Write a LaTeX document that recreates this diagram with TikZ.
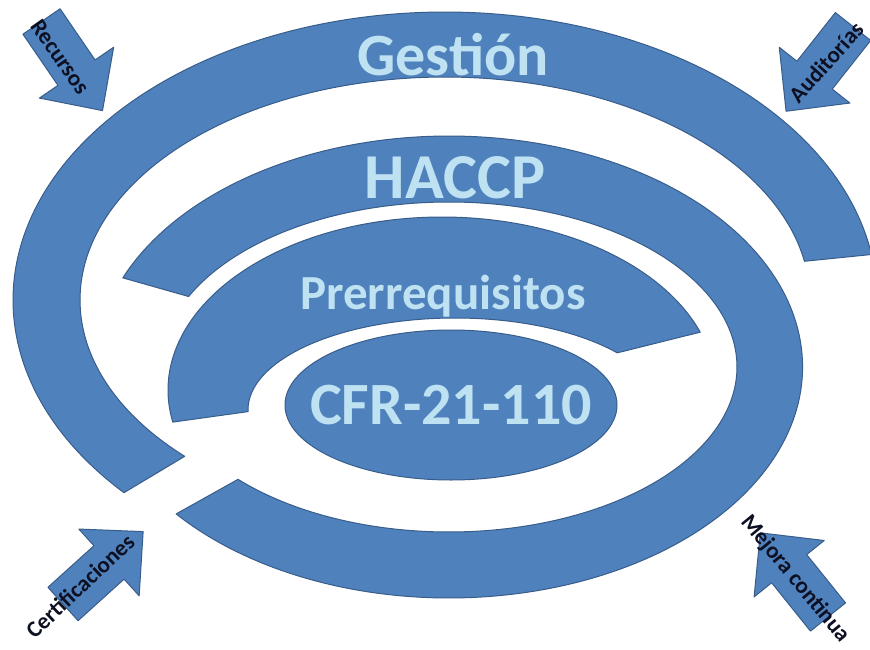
\documentclass[tikz,border=0pt]{standalone}
\usepackage{fontspec}
\setmainfont{Carlito}
\definecolor{bandfill}{RGB}{79,129,189}
\definecolor{bandline}{RGB}{56,93,138}
\definecolor{labellight}{RGB}{190,226,242}
\definecolor{labeldark}{RGB}{12,16,34}
\tikzset{
  band/.style={fill=bandfill, draw=bandline, line width=1pt, line join=round},
  bigtext/.style={text=labellight, font=\bfseries\fontsize{60}{60}\selectfont, inner sep=0pt, anchor=base},
  arrowtext/.style={text=labeldark, font=\bfseries\fontsize{23}{23}\selectfont, inner sep=0pt},
  blockarrow/.pic={\path[band] (0,-22.5) -- (62,-22.5) -- (62,-45) -- (108,0) -- (62,45) -- (62,22.5) -- (0,22.5) -- cycle;}
}
\begin{document}
\begin{tikzpicture}[x=1pt,y=-1pt]
\useasboundingbox (0,0) rectangle (870,650);
\begin{scope}
\clip (0,0) rectangle (870,650);
% Gestion band
\path[band] plot[domain=0:1,samples=160] ({445+432*cos(138+213*\x)},{300+288*sin(138+213*\x)})
  -- plot[domain=0:1,samples=160] ({445+365*cos(350-214.6*\x)},{300+223*sin(350-214.6*\x)}) -- cycle;
% HACCP band
\path[band] plot[domain=0:1,samples=200] ({449+353.6*cos(202.7+298.1*\x)},{367+231*sin(202.7+298.1*\x)})
  -- plot[domain=0:1,samples=200] ({449+288*cos(497.1-292.1*\x)},{367+165*sin(497.1-292.1*\x)}) -- cycle;
% Prerrequisitos band
\path[band] plot[domain=0:1,samples=120] ({442+274*cos(169.3+171.4*\x)},{390+173*sin(169.3+171.4*\x)})
  -- plot[domain=0:1,samples=120] ({455+207*cos(321.6-142.8*\x)},{410+92*sin(321.6-142.8*\x)}) -- cycle;
% CFR ellipse
\path[band] (451,405) ellipse [x radius=166, y radius=75];
% block arrows
\pic[rotate=-55.6] at (41.5,21.5) {blockarrow};
\pic[rotate=-128.3] at (853,26.5) {blockarrow};
\pic[rotate=42.1] at (63,604) {blockarrow};
\pic[rotate=128.8] at (828,617) {blockarrow};
\end{scope}
% texts
\node[bigtext] (gestion) at (453,76) {Gestión};
\node[bigtext, font=\bfseries\fontsize{64}{64}\selectfont] (haccp) at (455,198) {HACCP};
\node[bigtext, font=\bfseries\fontsize{49}{49}\selectfont] (prer) at (443,309) {Prerrequisitos};
\node[bigtext] (cfr) at (451,424) {CFR-21-110};
\node[arrowtext, rotate=-55] (recursos) at (60,57) {Recursos};
\node[arrowtext, rotate=48] (auditorias) at (826,62) {Auditorías};
\node[arrowtext, rotate=43.5] (cert) at (80,586) {Certificaciones};
\node[arrowtext, rotate=-50.5] (mejora) at (795,579) {Mejora continua};
\end{tikzpicture}
\end{document}
